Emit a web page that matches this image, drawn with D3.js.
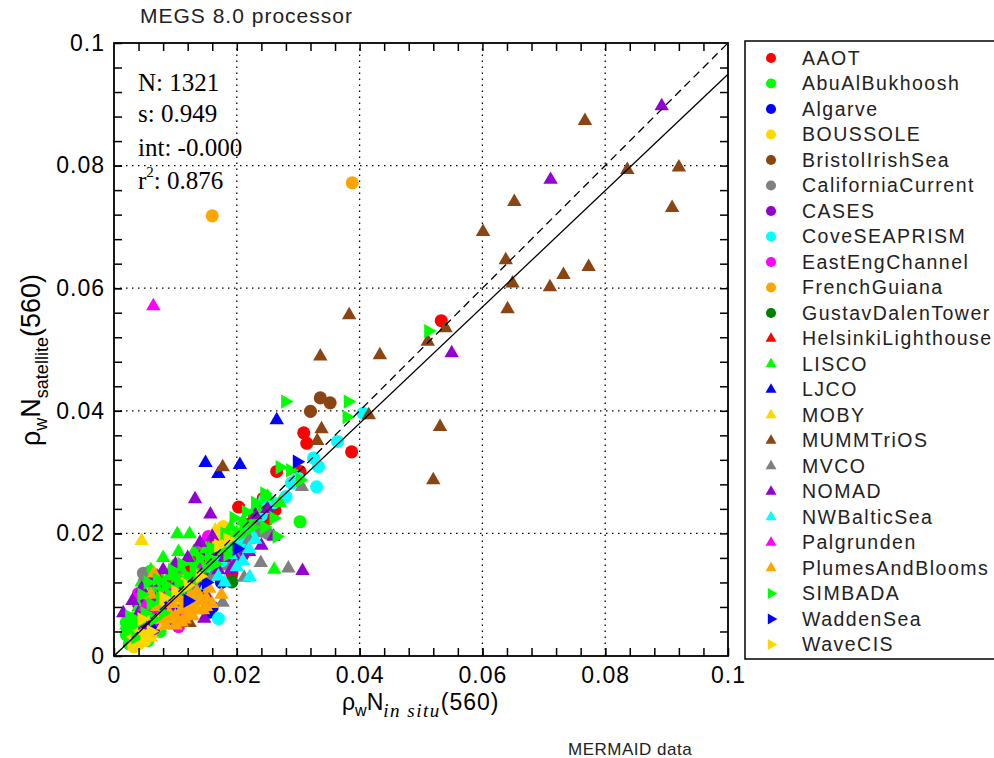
<!DOCTYPE html>
<html>
<head>
<meta charset="utf-8">
<script src="https://cdn.jsdelivr.net/npm/d3@7/dist/d3.min.js"></script>
<style>
body { margin: 0; background: #fff; }
svg { display: block; }
</style>
</head>
<body>
<script>
// sites in legend order, with marker colour and shape
const sites = ["AAOT", "AbuAlBukhoosh", "Algarve", "BOUSSOLE", "BristolIrishSea", "CaliforniaCurrent",
  "CASES", "CoveSEAPRISM", "EastEngChannel", "FrenchGuiana", "GustavDalenTower", "HelsinkiLighthouse",
  "LISCO", "LJCO", "MOBY", "MUMMTriOS", "MVCO", "NOMAD", "NWBalticSea", "Palgrunden",
  "PlumesAndBlooms", "SIMBADA", "WaddenSea", "WaveCIS"];
const colors = ["#ff0000", "#00ff00", "#0000ff", "#ffd700", "#8b4513", "#808080",
  "#9400d3", "#00ffff", "#ff00ff", "#ffa500", "#008000", "#ff0000",
  "#00ff00", "#0000ff", "#ffd700", "#8b4513", "#808080", "#9400d3", "#00ffff", "#ff00ff",
  "#ffa500", "#00ff00", "#0000ff", "#ffd700"];
const shapes = ["circle", "circle", "circle", "circle", "circle", "circle",
  "circle", "circle", "circle", "circle", "circle", "triangle",
  "triangle", "triangle", "triangle", "triangle", "triangle", "triangle", "triangle", "triangle",
  "triangle", "right", "right", "right"];

// [in situ, satellite] pairs
const AAOT = [[.0533,.0547],[.0309,.0364],[.0314,.0347],[.0387,.0333],[.0265,.0301],[.0303,.0301],
  [.0203,.0243],[.0243,.0257],[.0238,.0243],[.0148,.0184],[.0135,.0167],[.0192,.0135],[.0195,.0151],
  [.0249,.0222],[.0262,.0238],[.0220,.0215],[.0185,.0205],[.0172,.0160],[.0228,.0230],[.0250,.0250],
  [.0210,.0190],[.0160,.0140],[.0120,.0125],[.0095,.0105]];
const AbuAlBukhoosh = [[.0030,.0045],[.0040,.0060],[.0050,.0050],[.0060,.0075],[.0070,.0065],[.0080,.0090],
  [.0090,.0080],[.0100,.0110],[.0110,.0100],[.0120,.0130],[.0130,.0115],[.0140,.0150],[.0150,.0135],
  [.0160,.0165],[.0045,.0030],[.0055,.0040],[.0059,.0138],[.0303,.0219],[.0185,.0180],[.0200,.0195],
  [.0215,.0210],[.0230,.0225],[.0240,.0235],[.0035,.0025],[.0075,.0040],[.0085,.0060],[.0105,.0075],
  [.0025,.0020],[.0020,.0035],[.0065,.0110],[.0095,.0125],[.0125,.0095],[.0045,.0090],[.0075,.0115],
  [.0115,.0120],[.0135,.0130],[.0170,.0175],[.0020,.0055],[.0055,.0025]];
const Algarve = [[.0154,.0071],[.0160,.0080],[.0095,.0060],[.0130,.0095],[.0175,.0120]];
const BOUSSOLE = [[.0032,.0015],[.0029,.0037],[.0040,.0020],[.0050,.0025],[.0045,.0045],[.0060,.0035],
  [.0070,.0050],[.0065,.0085],[.0080,.0075],[.0090,.0095],[.0100,.0085],[.0178,.0211],[.0189,.0200],
  [.0110,.0130],[.0125,.0110],[.0035,.0060]];
const BristolIrishSea = [[.0320,.0399],[.0352,.0413],[.0336,.0421],[.0070,.0129],[.0100,.0070],[.0180,.0170]];
const CaliforniaCurrent = [[.0048,.0135],[.0140,.0167],[.0233,.0211],[.0180,.0150],[.0210,.0175],
  [.0250,.0200],[.0120,.0095],[.0090,.0070]];
const CASES = [[.0050,.0070],[.0080,.0055],[.0040,.0085],[.0110,.0085],[.0150,.0160],[.0210,.0165],
  [.0030,.0050],[.0065,.0045]];
const CoveSEAPRISM = [[.0364,.0350],[.0325,.0323],[.0333,.0309],[.0330,.0276],[.0406,.0396],[.0170,.0061],
  [.0289,.0282],[.0300,.0290],[.0280,.0260],[.0260,.0250],[.0240,.0230],[.0220,.0200],[.0205,.0185],
  [.0190,.0175],[.0175,.0155],[.0160,.0145],[.0140,.0125],[.0120,.0110],[.0105,.0095],[.0245,.0255]];
const EastEngChannel = [[.0040,.0102],[.0105,.0048],[.0154,.0195],[.0070,.0095],[.0090,.0065],
  [.0060,.0055],[.0130,.0110]];
const FrenchGuiana = [[.0388,.0772],[.0160,.0718],[.0100,.0080],[.0120,.0070]];
const GustavDalenTower = [[.0192,.0121],[.0080,.0105],[.0100,.0090],[.0150,.0125],[.0060,.0080]];
const HelsinkiLighthouse = [[.0160,.0180],[.0140,.0160],[.0120,.0140],[.0180,.0195],[.0100,.0100],[.0090,.0120]];
const LISCO = [[.0103,.0199],[.0123,.0199],[.0261,.0141],[.0060,.0140],[.0080,.0160],[.0105,.0170],
  [.0130,.0170],[.0150,.0175],[.0170,.0185],[.0190,.0210],[.0210,.0220],[.0230,.0240],[.0250,.0260],
  [.0270,.0250],[.0040,.0080],[.0050,.0100],[.0070,.0110],[.0090,.0130],[.0110,.0140],[.0125,.0155],
  [.0140,.0150],[.0160,.0155],[.0180,.0170],[.0200,.0200],[.0030,.0060],[.0065,.0090],[.0085,.0100],
  [.0020,.0050],[.0045,.0120],[.0075,.0130],[.0095,.0145]];
const LJCO = [[.0265,.0385],[.0149,.0315],[.0170,.0297],[.0205,.0312],[.0120,.0120],[.0080,.0085],
  [.0140,.0110],[.0100,.0070],[.0060,.0050]];
const MOBY = [[.0045,.0188],[.0040,.0030],[.0050,.0045],[.0060,.0030],[.0070,.0060],[.0080,.0050],
  [.0090,.0070],[.0055,.0065],[.0035,.0040],[.0075,.0085],[.0100,.0090],[.0115,.0100],[.0165,.0205],[.0170,.0190]];
const MUMMTriOS = [[.0767,.0873],[.0836,.0793],[.0920,.0797],[.0652,.0741],[.0909,.0731],[.0601,.0692],
  [.0638,.0646],[.0773,.0635],[.0732,.0622],[.0649,.0608],[.0710,.0602],[.0641,.0566],[.0540,.0535],
  [.0511,.0513],[.0433,.0491],[.0531,.0374],[.0520,.0287],[.0383,.0556],[.0336,.0489],[.0338,.0370],
  [.0331,.0351],[.0177,.0308],[.0415,.0393],[.0123,.0054],[.0070,.0130],[.0090,.0105]];
const MVCO = [[.0239,.0152],[.0284,.0143],[.0212,.0128],[.0177,.0087],[.0306,.0276],[.0240,.0200],
  [.0200,.0160],[.0160,.0130],[.0130,.0100],[.0100,.0140],[.0060,.0120],[.0220,.0190],[.0050,.0130]];
const NOMAD = [[.0892,.0897],[.0711,.0777],[.0550,.0494],[.0132,.0256],[.0157,.0231],[.0307,.0139],
  [.0147,.0061],[.0100,.0150],[.0080,.0140],[.0060,.0120],[.0120,.0160],[.0140,.0185],[.0160,.0170],
  [.0180,.0160],[.0200,.0155],[.0220,.0170],[.0240,.0180],[.0260,.0195],[.0230,.0230],[.0250,.0240],
  [.0040,.0070],[.0030,.0090],[.0050,.0050],[.0090,.0080],[.0110,.0105],[.0130,.0120],[.0170,.0140],
  [.0190,.0140],[.0150,.0100],[.0125,.0080],[.0015,.0070],[.0070,.0095],[.0100,.0120],[.0160,.0195],
  [.0045,.0110]];
const NWBalticSea = [[.0221,.0129],[.0200,.0145],[.0190,.0165],[.0220,.0175],[.0170,.0130],[.0150,.0115],
  [.0230,.0190],[.0180,.0120],[.0140,.0095],[.0210,.0155]];
const Palgrunden = [[.0064,.0571],[.0050,.0080],[.0070,.0075],[.0090,.0110],[.0110,.0065],[.0140,.0140]];
const PlumesAndBlooms = [[.0080,.0060],[.0090,.0070],[.0100,.0065],[.0110,.0075],[.0120,.0080],[.0130,.0085],
  [.0140,.0090],[.0150,.0095],[.0095,.0085],[.0105,.0095],[.0115,.0090],[.0125,.0100],[.0135,.0105],
  [.0085,.0050],[.0100,.0050],[.0115,.0060],[.0128,.0065],[.0145,.0075],[.0155,.0110],[.0175,.0100],
  [.0070,.0080],[.0060,.0100],[.0065,.0135],[.0160,.0085],[.0110,.0055],[.0135,.0075],[.0150,.0080],
  [.0090,.0060],[.0120,.0090]];
const SIMBADA = [[.0279,.0415],[.0381,.0415],[.0379,.0390],[.0512,.0530],[.0270,.0308],[.0287,.0303],
  [.0303,.0287],[.0245,.0265],[.0230,.0250],[.0215,.0235],[.0195,.0225],[.0245,.0210],[.0265,.0195],
  [.0260,.0225],[.0180,.0200],[.0160,.0175],[.0140,.0160],[.0120,.0130],[.0105,.0120],[.0090,.0100],
  [.0075,.0095],[.0060,.0085],[.0050,.0070],[.0040,.0055],[.0030,.0050],[.0055,.0120],[.0070,.0125],
  [.0085,.0115],[.0100,.0130],[.0115,.0110],[.0130,.0140],[.0150,.0145],[.0165,.0150],[.0175,.0175],
  [.0195,.0180],[.0210,.0200],[.0225,.0210],[.0020,.0040],[.0035,.0030],[.0065,.0060],[.0080,.0070],
  [.0110,.0150],[.0018,.0045],[.0025,.0065],[.0045,.0100],[.0095,.0140],[.0135,.0125],[.0155,.0160],
  [.0185,.0165]];
const WaddenSea = [[.0298,.0317],[.0150,.0120],[.0120,.0090],[.0200,.0175]];
const WaveCIS = [[.0060,.0040],[.0080,.0095],[.0100,.0105],[.0120,.0115],[.0140,.0130],[.0170,.0180],
  [.0185,.0190],[.0045,.0060],[.0050,.0035]];

const siteData = [AAOT, AbuAlBukhoosh, Algarve, BOUSSOLE, BristolIrishSea, CaliforniaCurrent,
  CASES, CoveSEAPRISM, EastEngChannel, FrenchGuiana, GustavDalenTower, HelsinkiLighthouse,
  LISCO, LJCO, MOBY, MUMMTriOS, MVCO, NOMAD, NWBalticSea, Palgrunden,
  PlumesAndBlooms, SIMBADA, WaddenSea, WaveCIS];

// fit statistics and ticks
const nPoints = 1321, slope = 0.949, intercept = -0.000, r2 = 0.876;
const majorTicks = [0, 0.02, 0.04, 0.06, 0.08, 0.1];
const gridTicks = [0.02, 0.04, 0.06, 0.08];
const minorTicks = d3.range(1, 25).map(i => i * 0.004);

const sans = "Liberation Sans, Arial, Helvetica, sans-serif";
const serif = "Liberation Serif, Times New Roman, serif";

const svg = d3.select("body").append("svg")
  .attr("width", 994)
  .attr("height", 758);

const x = d3.scaleLinear().domain([0, 0.1]).range([114, 728]);
const y = d3.scaleLinear().domain([0, 0.1]).range([656, 43]);

// dotted grid
svg.append("g").selectAll("line.gx")
  .data(gridTicks).join("line")
  .attr("x1", d => x(d)).attr("x2", d => x(d))
  .attr("y1", y(0)).attr("y2", y(0.1))
  .attr("stroke", "#000").attr("stroke-width", 1.3).attr("stroke-dasharray", "1.5,4.5");
svg.append("g").selectAll("line.gy")
  .data(gridTicks).join("line")
  .attr("x1", x(0)).attr("x2", x(0.1))
  .attr("y1", d => y(d)).attr("y2", d => y(d))
  .attr("stroke", "#000").attr("stroke-width", 1.3).attr("stroke-dasharray", "1.5,4.5");

// points
function markPath(shape, small) {
  if (shape === "circle") return d3.symbol().type(d3.symbolCircle).size(small ? 80 : 135)();
  return d3.symbol().type(d3.symbolTriangle).size(small ? 52 : 90)();
}

const gPts = svg.append("g");
sites.forEach((s, i) => {
  gPts.append("g").selectAll("path")
    .data(siteData[i]).join("path")
    .attr("d", markPath(shapes[i], false))
    .attr("transform", d => `translate(${x(d[0])},${y(d[1])})` + (shapes[i] === "right" ? " rotate(90)" : ""))
    .attr("fill", colors[i]);
});

// 1:1 line and regression line
svg.append("line")
  .attr("x1", x(0)).attr("y1", y(0)).attr("x2", x(0.1)).attr("y2", y(0.1))
  .attr("stroke", "#000").attr("stroke-width", 1.3).attr("stroke-dasharray", "8,5");
svg.append("line")
  .attr("x1", x(0)).attr("y1", y(intercept)).attr("x2", x(0.1)).attr("y2", y(intercept + slope * 0.1))
  .attr("stroke", "#000").attr("stroke-width", 1.3);

// axes with inward ticks
const fmt = d => d === 0 ? "0" : d === 0.1 ? "0.1" : d3.format(".2f")(d);

function styleAxis(g) {
  g.select(".domain").remove();
  g.selectAll(".tick line").attr("stroke", "#000").attr("stroke-width", 1.5);
  g.selectAll("text").attr("font-family", sans).attr("font-size", 23)
    .attr("letter-spacing", 1).attr("fill", "#000");
}

svg.append("g").attr("transform", "translate(0,656)")
  .call(d3.axisBottom(x).tickValues(majorTicks).tickSize(-8).tickPadding(11).tickFormat(fmt)).call(styleAxis);
svg.append("g").attr("transform", "translate(0,656)")
  .call(d3.axisBottom(x).tickValues(minorTicks).tickSize(-8).tickFormat("")).call(styleAxis);
svg.append("g").attr("transform", "translate(0,43)")
  .call(d3.axisTop(x).tickValues(minorTicks).tickSize(-8).tickFormat("")).call(styleAxis);
svg.append("g").attr("transform", "translate(114,0)")
  .call(d3.axisLeft(y).tickValues(majorTicks).tickSize(-8).tickPadding(9).tickFormat(fmt)).call(styleAxis);
svg.append("g").attr("transform", "translate(114,0)")
  .call(d3.axisLeft(y).tickValues(minorTicks).tickSize(-8).tickFormat("")).call(styleAxis);
svg.append("g").attr("transform", "translate(728,0)")
  .call(d3.axisRight(y).tickValues(minorTicks).tickSize(-8).tickFormat("")).call(styleAxis);

svg.append("rect")
  .attr("x", x(0)).attr("y", y(0.1))
  .attr("width", x(0.1) - x(0)).attr("height", y(0) - y(0.1))
  .attr("fill", "none").attr("stroke", "#000").attr("stroke-width", 1.8);

// statistics
const st = svg.append("g").attr("font-family", serif).attr("font-size", 25).attr("fill", "#000");
st.append("text").attr("x", 138).attr("y", 91).text("N: " + nPoints);
st.append("text").attr("x", 138).attr("y", 122).text("s: " + slope.toFixed(3));
st.append("text").attr("x", 138).attr("y", 156).text("int: -" + Math.abs(intercept).toFixed(3));
const rt = st.append("text").attr("x", 138).attr("y", 189);
rt.append("tspan").text("r");
rt.append("tspan").attr("font-size", 15).attr("dy", -12).text("2");
rt.append("tspan").attr("dy", 12).text(": " + r2.toFixed(3));

// titles
svg.append("text").attr("x", 140).attr("y", 23)
  .attr("font-family", sans).attr("font-size", 21).attr("letter-spacing", 1)
  .attr("fill", "#222").text("MEGS 8.0 processor");
svg.append("text").attr("x", 568).attr("y", 755)
  .attr("font-family", sans).attr("font-size", 17).attr("letter-spacing", 0.5)
  .attr("fill", "#222").text("MERMAID data");

const xt = svg.append("text").attr("x", 342).attr("y", 710)
  .attr("font-family", sans).attr("font-size", 23).attr("fill", "#000");
xt.append("tspan").text("ρ");
xt.append("tspan").attr("font-size", 16).attr("dy", 6).text("w");
xt.append("tspan").attr("dy", -6).text("N");
xt.append("tspan").attr("font-family", serif).attr("font-style", "italic").attr("font-size", 19)
  .attr("letter-spacing", 1.5).attr("dy", 7).text("in situ");
xt.append("tspan").attr("dy", -7).attr("letter-spacing", 1).text("(560)");

const yt = svg.append("text").attr("transform", "translate(40,446) rotate(-90)")
  .attr("font-family", sans).attr("font-size", 27).attr("fill", "#000");
yt.append("tspan").text("ρ");
yt.append("tspan").attr("font-size", 18).attr("dy", 7).text("w");
yt.append("tspan").attr("dy", -7).text("N");
yt.append("tspan").attr("font-size", 18).attr("dy", 8).text("satellite");
yt.append("tspan").attr("dy", -8).text("(560)");

// legend
const lg = svg.append("g");
lg.append("rect").attr("x", 745).attr("y", 41).attr("width", 270).attr("height", 618)
  .attr("fill", "#fff").attr("stroke", "#000").attr("stroke-width", 1.5);
const items = lg.selectAll("g.item").data(sites).join("g")
  .attr("transform", (d, i) => `translate(771,${58 + i * 25.5})`);
items.append("path")
  .attr("d", (d, i) => markPath(shapes[i], true))
  .attr("transform", (d, i) => shapes[i] === "right" ? "rotate(90)" : null)
  .attr("fill", (d, i) => colors[i]);
items.append("text").attr("x", 31).attr("dy", "0.35em")
  .attr("font-family", sans).attr("font-size", 19.5).attr("letter-spacing", 1.5)
  .attr("fill", "#222").text(d => d);
</script>
</body>
</html>
